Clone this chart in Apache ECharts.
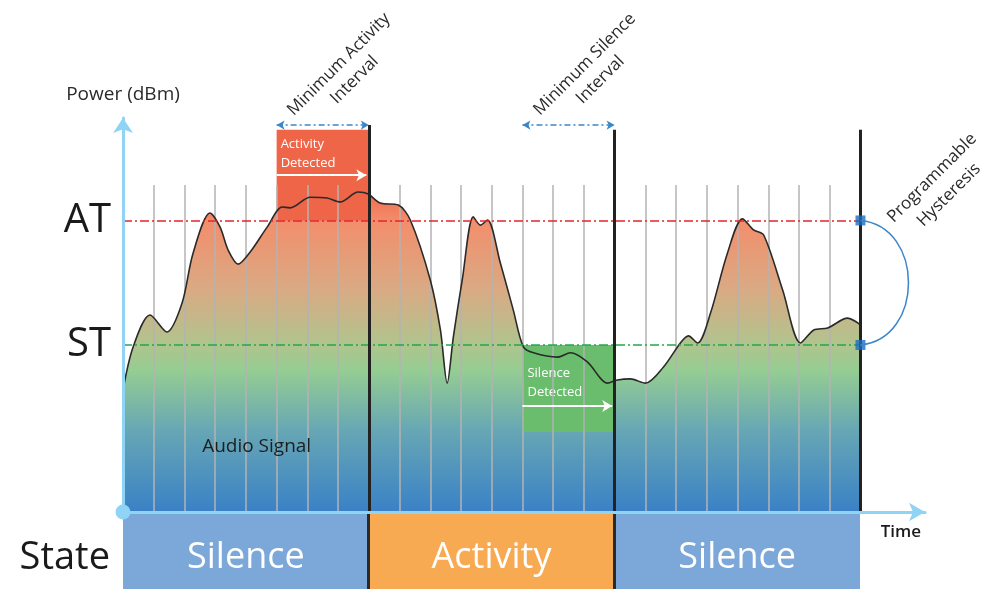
<!DOCTYPE html>
<html>
<head>
<meta charset="utf-8">
<style>
  html, body { margin: 0; padding: 0; background: #fff; }
  #chart { width: 992px; height: 589px; }
</style>
<script src="https://cdn.jsdelivr.net/npm/echarts@6/dist/echarts.min.js"></script>
</head>
<body>
<div id="chart"></div>
<script>
// audio power samples: x in detection slots, y in relative dBm units
var timeSteps = [0, 0.33, 0.88, 1.43, 1.92, 2.28, 2.83, 3.16, 3.42, 3.75, 4.14, 4.69, 5.18, 5.44, 6.09, 6.64, 7.07, 7.65, 7.98,
  8.37, 8.96, 9.35, 10.0, 10.33, 10.55, 10.75, 11.04, 11.4, 11.63, 11.86, 12.28, 12.7, 13.03, 13.36, 14.14, 14.56, 15.11, 15.77,
  16.09, 16.51, 17.0, 17.59, 18.14, 18.4, 18.7, 19.12, 19.67, 20.16, 20.52, 20.85, 21.47, 22.05, 22.48, 22.93, 23.58, 24]
var powerLevels = [31, 41.9, 50, 45.7, 53, 65.7, 75.9, 72.3, 66.5, 62.9, 66, 72.3, 77.4, 77.2, 79.9, 79.7, 78.7, 81.2, 80.7,
  78.4, 77.9, 74.1, 58.9, 46.2, 32.7, 44.4, 58.9, 74.9, 72.8, 74.1, 63.2, 51.3, 41.9, 40.4, 39.3, 40.4, 38.1, 32.7,
  33.5, 33.8, 32.7, 36.8, 42.9, 44.7, 42.9, 50.5, 65.7, 74.4, 71.6, 70.3, 56.3, 42.9, 46.2, 46.7, 49.2, 47.5]
var thresholdNames = ['AT', 'ST']
var thresholdLevels = [74, 42.4]
var stateNames = ['Silence', 'Activity', 'Silence']
var stateEdges = [0, 8, 16, 24]
var detectWindows = [[5, 8], [13, 16]]
var detectLabels = ['Activity\nDetected', 'Silence\nDetected']
var intervalLabels = ['Minimum Activity\nInterval', 'Minimum Silence\nInterval']

var FONT = '"Open Sans", "Noto Sans", sans-serif'
var AT = thresholdLevels[0]
var ST = thresholdLevels[1]
var SLOTS = stateEdges[stateEdges.length - 1]
var signal = timeSteps.map(function (t, i) { return [t, powerLevels[i]] })

var chart = echarts.init(document.getElementById('chart'))

// thin grey slot lines, skipping the state boundaries
var slotLines = []
for (var i = 1; i < SLOTS; i++) {
  if (stateEdges.indexOf(i) < 0) slotLines.push([{ coord: [i, 0] }, { coord: [i, 83] }])
}
var edgeLines = stateEdges.slice(1).map(function (e, k) {
  return [{ coord: [e, 0] }, { coord: [e, k === 0 ? 98.2 : 97] }]
})
var thresholdColors = ['#e3262b', '#22a84b']
var thresholdLines = thresholdNames.map(function (n, k) {
  return [{ coord: [0, thresholdLevels[k]], name: n, lineStyle: { color: thresholdColors[k] } },
          { coord: [SLOTS, thresholdLevels[k]] }]
})
var boxColors = ['#ef6547', '#69bd6c']
var boxes = detectWindows.map(function (w, k) {
  return [{
    coord: [w[0], k === 0 ? AT : ST],
    name: detectLabels[k],
    itemStyle: { color: boxColors[k] },
    label: { position: k === 0 ? [4, 5] : [5, 19] }
  }, { coord: [w[1], k === 0 ? 97 : 20.3] }]
})
var detectArrows = detectWindows.map(function (w, k) {
  var y = k === 0 ? 85.5 : 26.9
  return [{ coord: [w[0], y] }, { coord: [w[1] - 0.08, y] }]
})
var intervalArrows = detectWindows.map(function (w) {
  return [{ coord: [w[0], 98.2] }, { coord: [w[1], 98.2] }]
})
var stateColors = { Silence: '#7ba7d9', Activity: '#f8aa52' }
var stateAreas = stateNames.map(function (s, k) {
  return [{ xAxis: stateEdges[k], name: s, itemStyle: { color: stateColors[s] } }, { xAxis: stateEdges[k + 1] }]
})

var fill = {
  type: 'linear', x: 0, y: 190, x2: 0, y2: 512, global: true,
  colorStops: [
    { offset: 0, color: '#f06a4e' },
    { offset: 0.1, color: '#f38e6c' },
    { offset: 0.31, color: '#d9aa84' },
    { offset: 0.48, color: '#b0c48e' },
    { offset: 0.56, color: '#95cd92' },
    { offset: 0.75, color: '#66a6b5' },
    { offset: 1, color: '#3a81c6' }
  ]
}

var option = {
  animation: false,
  textStyle: { fontFamily: FONT },
  grid: [
    { left: 123, right: 67, top: 118, bottom: 77 },
    { left: 123, right: 132, top: 514, bottom: 0 }
  ],
  xAxis: [{
    type: 'value', min: 0, max: 26.1, z: 10,
    name: 'Time', nameGap: -4,
    nameTextStyle: { fontSize: 17, fontWeight: 600, color: '#1a1a1a', align: 'right', verticalAlign: 'top', padding: [12, 0, 0, 0] },
    axisLine: { show: true, symbol: ['none', 'arrow'], symbolSize: [14, 16], lineStyle: { color: '#8fd4f4', width: 3 } },
    axisTick: { show: false }, axisLabel: { show: false }, splitLine: { show: false }
  }, {
    gridIndex: 1, type: 'value', min: 0, max: SLOTS, show: false
  }],
  yAxis: [{
    type: 'value', min: 0, max: 100, z: 10,
    name: 'Power (dBm)', nameGap: 14,
    nameTextStyle: { fontSize: 19, color: '#2a2a2a' },
    axisLine: { show: true, symbol: ['circle', 'arrow'], symbolSize: [15, 15], lineStyle: { color: '#8fd4f4', width: 3 } },
    axisTick: { show: false }, axisLabel: { show: false }, splitLine: { show: false }
  }, {
    gridIndex: 1, type: 'category', data: ['State'],
    axisLine: { show: false }, axisTick: { show: false }, splitLine: { show: false },
    axisLabel: {
      margin: 13, formatter: '{s|{value}}',
      rich: { s: { fontSize: 38, color: '#1a1a1a', padding: [13, 0, 0, 0] } }
    }
  }],
  series: [
    {
      // filled area under the signal
      type: 'line', z: 1, data: signal, smooth: 0.3, symbol: 'none', silent: true,
      lineStyle: { width: 0 }, areaStyle: { color: fill, opacity: 1 }
    },
    {
      type: 'line', data: [], silent: true,
      markArea: {
        z: 2, silent: true, data: boxes,
        label: { show: true, formatter: '{b}', color: '#fff', fontSize: 13, lineHeight: 19, align: 'left' }
      }
    },
    {
      type: 'line', data: [], silent: true,
      markLine: { z: 3, silent: true, symbol: 'none', label: { show: false }, lineStyle: { color: '#b3b3b3', width: 1.5, type: 'solid' }, data: slotLines }
    },
    {
      type: 'line', z: 4, data: signal, smooth: 0.3, symbol: 'none', silent: true,
      lineStyle: { color: '#2a2a2a', width: 1.6 }
    },
    {
      type: 'line', data: [], silent: true,
      markLine: {
        z: 5, silent: true, symbol: 'none',
        label: { show: true, position: 'start', formatter: '{b}', fontSize: 40, color: '#1a1a1a', distance: 12 },
        lineStyle: { width: 1.6, type: [9, 3, 2, 3] },
        data: thresholdLines
      }
    },
    {
      type: 'line', data: [], silent: true,
      markLine: { z: 6, silent: true, symbol: 'none', label: { show: false }, lineStyle: { color: '#222', width: 3, type: 'solid' }, data: edgeLines }
    },
    {
      type: 'line', data: [], silent: true,
      markLine: { z: 6, silent: true, symbol: ['none', 'arrow'], symbolSize: [9, 10], label: { show: false }, lineStyle: { color: '#fff', width: 2, type: 'solid' }, data: detectArrows }
    },
    {
      type: 'line', data: [], silent: true,
      markLine: { z: 6, silent: true, symbol: ['arrow', 'arrow'], symbolSize: [7, 8], label: { show: false }, lineStyle: { color: '#3b86c8', width: 1.5, type: [6, 3, 2, 3] }, data: intervalArrows }
    },
    {
      type: 'scatter', z: 8, silent: true, data: thresholdLevels.map(function (v) { return [SLOTS, v] }),
      symbol: 'rect', symbolSize: 10, itemStyle: { color: '#1b6ec2' }
    },
    {
      type: 'line', xAxisIndex: 1, yAxisIndex: 1, data: [], silent: true,
      markArea: {
        silent: true, data: stateAreas,
        label: { show: true, position: 'inside', offset: [0, 6], formatter: '{b}', color: '#fff', fontSize: 36 }
      },
      markLine: {
        silent: true, symbol: 'none', label: { show: false }, lineStyle: { color: '#2a2a2a', width: 3, type: 'solid' },
        data: stateEdges.slice(1, -1).map(function (e) { return { xAxis: e } })
      }
    }
  ]
}
chart.setOption(option)

// annotations anchored on data coordinates
function px(p) { return chart.convertToPixel({ gridIndex: 0 }, p) }
var atPt = px([SLOTS, AT])
var stPt = px([SLOTS, ST])
var graphics = [{
  type: 'bezierCurve', silent: true, z: 20,
  shape: { x1: atPt[0], y1: atPt[1], x2: stPt[0], y2: stPt[1], cpx1: atPt[0] + 64, cpy1: atPt[1] + 6, cpx2: stPt[0] + 64, cpy2: stPt[1] - 6 },
  style: { stroke: '#3b86c8', lineWidth: 1.5, fill: null }
}, {
  type: 'text', silent: true, z: 20, x: atPt[0] + 80, y: atPt[1] - 34, rotation: Math.PI / 4,
  style: { text: 'Programmable\nHysteresis', font: '17px ' + FONT, fill: '#2a2a2a', align: 'center', verticalAlign: 'middle', lineHeight: 24 }
}]
var sig = px([4.35, 16.5])
graphics.push({
  type: 'text', silent: true, z: 20, x: sig[0], y: sig[1],
  style: { text: 'Audio Signal', font: '19px ' + FONT, fill: '#1e1e1e', align: 'center', verticalAlign: 'middle' }
})
detectWindows.forEach(function (w, k) {
  var mid = px([(w[0] + w[1]) / 2, 98.2])
  graphics.push({
    type: 'text', silent: true, z: 20, x: mid[0] + 24, y: mid[1] - 53, rotation: Math.PI / 4,
    style: { text: intervalLabels[k], font: '17px ' + FONT, fill: '#2a2a2a', align: 'center', verticalAlign: 'middle', lineHeight: 22 }
  })
})
chart.setOption({ graphic: graphics })
</script>
</body>
</html>
